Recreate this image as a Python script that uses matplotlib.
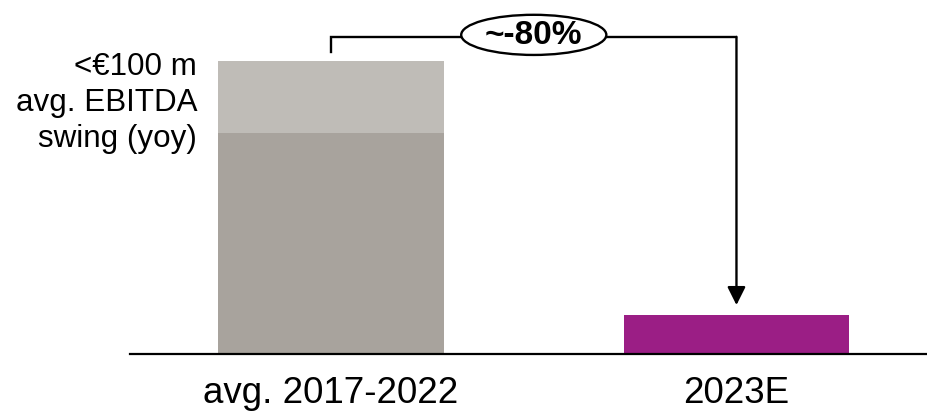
import numpy as np
import matplotlib.pyplot as plt
from matplotlib.patches import Ellipse

plt.rcParams['font.family'] = ['Liberation Sans', 'DejaVu Sans']

# data
categories = ['avg. 2017-2022', '2023E']
base_part = [75.4, 13.3]      # darker lower part / 2023E value
upper_part = [24.6, 0.0]      # lighter upper part of the avg. bar
bar_colors = ['#a8a39d', '#9b1e85']
upper_color = '#bfbcb7'
left_note = '<€100 m\navg. EBITDA\nswing (yoy)'
change_label = '~-80%'

W, H = 927, 411
fig = plt.figure(figsize=(W / 100, H / 100), dpi=100)
# axes placed so that the baseline sits at the right pixel row
ax = fig.add_axes([130 / W, 57 / H, 797 / W, 354 / H])
ax.set_xlim(-0.496, 1.470)
ax.set_ylim(0, 120.8)

x = np.arange(len(categories))
bw = 0.556
ax.bar(x, base_part, width=bw, color=bar_colors, zorder=2)
ax.bar(x, upper_part, width=bw, bottom=base_part, color=upper_color, zorder=2)

# baseline
for s in ['top', 'right', 'left']:
    ax.spines[s].set_visible(False)
ax.spines['bottom'].set_linewidth(1.6)
ax.spines['bottom'].set_color('black')
ax.set_yticks([])
ax.set_xticks(x)
ax.set_xticklabels(categories, fontsize=26.5)
ax.tick_params(axis='x', length=0, pad=16)

# bracket with arrow
lw = 1.7
total0 = base_part[0] + upper_part[0]
y_br = total0 + 8.2
ax.plot([x[0], x[0], x[1]], [total0 + 3.1, y_br, y_br], color='black', lw=lw,
        zorder=3, solid_joinstyle='miter')
ax.annotate('', xy=(x[1], base_part[1] + 3.4), xytext=(x[1], y_br),
            arrowprops=dict(arrowstyle='-|>,head_length=0.5,head_width=0.25',
                            color='black', lw=lw,
                            mutation_scale=22, shrinkA=0, shrinkB=0),
            zorder=3)

xe = 0.50
ax.add_patch(Ellipse((xe, y_br + 0.7), 0.358, 13.7, facecolor='white',
                     edgecolor='black', lw=lw, zorder=4, clip_on=False))
ax.text(xe, y_br + 0.5, change_label, ha='center', va='center',
        fontsize=24, fontweight='bold', zorder=5)

# left note
fig.text(197 / W, 1 - 103 / H, left_note, ha='right', va='center',
         multialignment='right', fontsize=22.6, linespacing=1.25)

fig.savefig('out.png', dpi=100)
